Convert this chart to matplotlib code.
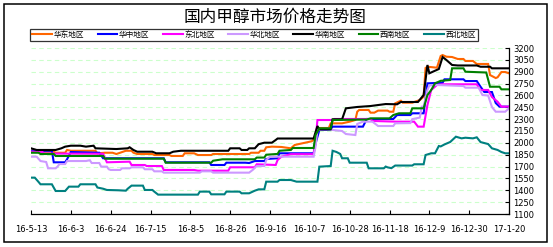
import matplotlib
matplotlib.use("Agg")
import matplotlib.pyplot as plt
import matplotlib.patches as mpatches
import pandas as pd

plt.rcParams['font.family'] = ['Noto Sans CJK SC', 'DejaVu Sans']

# 起始日期 + 天数
start = pd.Timestamp("2016-05-13")
n_days = 252

names = ["华东地区", "华中地区", "东北地区", "华北地区", "华南地区", "西南地区", "西北地区"]
colors = ["#FF6600", "#0000FF", "#FF00FF", "#CC99FF", "#000000", "#008000", "#008080"]

# 华东
east_days = [0, 5, 6, 12, 13, 18, 19, 21, 34, 35, 39, 43, 45, 47, 50, 53, 54, 56, 64, 65,
             73, 74, 80, 81, 86, 88, 95, 96, 115, 116, 120, 121, 123, 124, 127, 132, 137, 139, 143, 148,
             150, 151, 152, 157, 158, 164, 168, 171, 172, 173, 178, 179, 181, 183, 188, 189, 191, 192, 195, 196,
             201, 205, 207, 208, 209, 214, 216, 217, 219, 222, 225, 228, 229, 233, 235, 241, 242, 245, 246, 248,
             250, 252]
east_val = [1900, 1900, 1888, 1888, 1875, 1875, 1910, 1900, 1900, 1868, 1875, 1875, 1859, 1875, 1900, 1900, 1875, 1859, 1859, 1846,
            1846, 1834, 1834, 1868, 1868, 1846, 1846, 1859, 1859, 1875, 1875, 1900, 1900, 1944, 1952, 1948, 1931, 1973, 1994, 2020,
            2061, 2141, 2188, 2188, 2247, 2247, 2268, 2289, 2394, 2416, 2416, 2382, 2382, 2408, 2408, 2394, 2394, 2500, 2533, 2508,
            2508, 2542, 2584, 2947, 2963, 2951, 3099, 3111, 3090, 3086, 3061, 3061, 3036, 3036, 2998, 2998, 2858, 2820, 2830, 2896,
            2896, 2880]

# 华中
central_days = [0, 11, 12, 18, 19, 21, 35, 36, 38, 70, 71, 94, 95, 102, 103, 113, 115, 118, 123, 124,
                130, 131, 149, 150, 152, 158, 159, 175, 177, 191, 193, 200, 201, 207, 209, 217, 218, 228, 229, 235,
                237, 239, 243, 245, 247, 252]
central_val = [1900, 1900, 1754, 1754, 1792, 1884, 1875, 1875, 1805, 1805, 1754, 1754, 1720, 1720, 1749, 1749, 1745, 1770, 1770, 1796,
               1805, 1868, 1868, 1990, 2163, 2171, 2205, 2205, 2302, 2302, 2352, 2352, 2374, 2374, 2753, 2761, 2804, 2804, 2782, 2782,
               2710, 2643, 2643, 2504, 2458, 2458]

# 东北
ne_days = [0, 6, 7, 38, 40, 52, 53, 60, 61, 69, 70, 86, 88, 104, 105, 118, 119, 129, 130, 132,
           137, 149, 150, 151, 159, 160, 179, 180, 193, 202, 204, 207, 209, 211, 214, 217, 235, 237, 241, 243,
           246, 248, 252]
ne_val = [1890, 1885, 1865, 1862, 1754, 1762, 1720, 1720, 1707, 1707, 1657, 1657, 1648, 1648, 1691, 1691, 1729, 1720, 1783, 1825,
          1857, 1857, 2015, 2289, 2289, 2302, 2302, 2277, 2268, 2268, 2205, 2205, 2479, 2669, 2732, 2741, 2741, 2669, 2669, 2580,
          2520, 2458, 2458]

# 华北
north_days = [0, 3, 5, 8, 9, 13, 14, 15, 18, 19, 29, 31, 32, 36, 37, 40, 41, 42, 47, 48,
              52, 53, 59, 60, 64, 65, 69, 70, 89, 90, 95, 96, 115, 117, 119, 123, 124, 126, 149, 150,
              151, 158, 159, 164, 166, 171, 172, 175, 180, 183, 191, 192, 200, 201, 205, 206, 207, 209, 210, 214,
              228, 229, 236, 238, 241, 243, 245, 250, 252]
north_val = [1825, 1825, 1770, 1758, 1678, 1678, 1700, 1732, 1732, 1770, 1770, 1780, 1745, 1745, 1699, 1699, 1666, 1657, 1657, 1678,
             1678, 1691, 1691, 1666, 1666, 1640, 1640, 1623, 1623, 1640, 1640, 1623, 1623, 1660, 1707, 1707, 1783, 1825, 1825, 1950,
             2163, 2180, 2163, 2150, 2112, 2099, 2239, 2268, 2268, 2213, 2213, 2247, 2250, 2300, 2320, 2458, 2458, 2669, 2726, 2732,
             2719, 2698, 2698, 2605, 2599, 2454, 2394, 2394, 2437]

# 华南
south_days = [0, 3, 13, 16, 18, 21, 26, 29, 33, 34, 45, 51, 52, 54, 56, 64, 66, 73, 75, 79,
              90, 104, 105, 110, 111, 114, 115, 118, 120, 123, 127, 129, 130, 149, 151, 152, 158, 159, 164, 166,
              172, 179, 187, 193, 195, 204, 207, 209, 210, 215, 217, 219, 222, 225, 235, 237, 242, 243, 252]
south_val = [1931, 1910, 1910, 1931, 1952, 1964, 1964, 1952, 1964, 1931, 1922, 1931, 1944, 1910, 1888, 1888, 1868, 1868, 1888, 1900,
             1900, 1900, 1931, 1931, 1910, 1910, 1931, 1931, 1983, 2002, 2002, 2036, 2055, 2055, 2213, 2171, 2171, 2298, 2298, 2437,
             2454, 2466, 2491, 2488, 2517, 2517, 2605, 2985, 2880, 2934, 3086, 3048, 2985, 2979, 2979, 2963, 2963, 2943, 2943]

# 西南
sw_days = [0, 4, 5, 12, 13, 38, 39, 70, 71, 95, 96, 101, 118, 119, 123, 124, 130, 131, 137, 138,
           149, 150, 152, 158, 159, 177, 179, 189, 191, 194, 200, 201, 207, 209, 211, 213, 216, 221, 222, 228,
           229, 240, 242, 247, 248, 252]
sw_val = [1875, 1875, 1859, 1859, 1834, 1834, 1800, 1800, 1749, 1749, 1774, 1792, 1792, 1814, 1814, 1850, 1860, 1900, 1910, 1935,
          1935, 2099, 2184, 2184, 2289, 2295, 2310, 2310, 2352, 2374, 2374, 2437, 2437, 2605, 2669, 2753, 2785, 2795, 2943, 2943,
          2900, 2890, 2710, 2710, 2677, 2677]

# 西北
nw_days = [0, 2, 4, 5, 11, 13, 18, 20, 25, 26, 34, 35, 38, 40, 46, 50, 51, 53, 59, 60,
           64, 65, 67, 88, 89, 94, 95, 102, 103, 110, 111, 115, 118, 120, 123, 124, 130, 131, 137, 140,
           151, 152, 158, 159, 161, 163, 164, 167, 168, 177, 178, 186, 187, 188, 190, 192, 201, 202, 207, 208,
           211, 213, 215, 216, 218, 221, 224, 227, 229, 233, 235, 237, 241, 243, 246, 248, 250, 252]
nw_val = [1560, 1560, 1505, 1476, 1476, 1391, 1391, 1446, 1446, 1476, 1476, 1435, 1420, 1404, 1400, 1395, 1420, 1459, 1459, 1404,
          1404, 1383, 1345, 1345, 1383, 1383, 1349, 1349, 1383, 1383, 1362, 1362, 1395, 1412, 1412, 1509, 1509, 1530, 1530, 1509,
          1509, 1699, 1707, 1900, 1885, 1860, 1805, 1805, 1749, 1749, 1678, 1678, 1700, 1690, 1680, 1713, 1713, 1729, 1729, 1846,
          1868, 1868, 1960, 1955, 1980, 2011, 2078, 2057, 2065, 2057, 2070, 2010, 1985, 1931, 1910, 1884, 1868, 1868]

series = [(east_days, east_val), (central_days, central_val), (ne_days, ne_val),
          (north_days, north_val), (south_days, south_val), (sw_days, sw_val), (nw_days, nw_val)]

y_ticks = list(range(1100, 3201, 150))

fig = plt.figure(figsize=(5.53, 2.47), dpi=100)
ax = fig.add_axes([31 / 553, 1 - 214 / 247, 478 / 553, 166 / 247])

# 网格线
for v in y_ticks[1:]:
    ax.axhline(v, color="#ccffcc", lw=0.8, ls=(0, (4, 3)), zorder=0)

for (d, v), c, nm in zip(series, colors, names):
    dates = start + pd.to_timedelta(d, unit="D")
    ax.plot(dates, v, color=c, lw=1.5, label=nm, solid_joinstyle="miter")

ax.set_xlim(start, start + pd.Timedelta(days=n_days))
ax.set_ylim(1100, 3200)

xt = pd.date_range(start, periods=13, freq="21D")
ax.set_xticks(xt)
ax.set_xticklabels([f"{t.year % 100}-{t.month}-{t.day}" for t in xt], fontsize=6,
                   family="DejaVu Sans")

ax.yaxis.tick_right()
ax.set_yticks(y_ticks)
ax.set_yticklabels([str(v) for v in y_ticks], fontsize=6, family="DejaVu Sans")

ax.tick_params(axis="x", direction="in", length=3, pad=8, width=0.8)
ax.tick_params(axis="y", direction="in", length=3, pad=3, width=0.8)

ax.spines["top"].set_visible(False)
ax.spines["left"].set_visible(False)
ax.spines["right"].set_linewidth(0.9)
ax.spines["bottom"].set_linewidth(0.9)

fig.text(0.497, 0.929, "国内甲醇市场价格走势图", ha="center", va="center", fontsize=12)

leg = fig.legend(loc="center", bbox_to_anchor=(254 / 553, 1 - 35 / 247), ncol=7,
                 fontsize=5.5, frameon=True, fancybox=False, edgecolor="black",
                 handlelength=2.6, handletextpad=0.2, columnspacing=1.75,
                 borderpad=0.25, borderaxespad=0)
leg.get_frame().set_linewidth(0.9)

# 外框
fig.patches.append(mpatches.Rectangle((4 / 553, 1 - 242 / 247), 543 / 553, 238 / 247,
                                      transform=fig.transFigure, fill=False,
                                      edgecolor="black", lw=1.1))

fig.savefig("out.png", dpi=100)
